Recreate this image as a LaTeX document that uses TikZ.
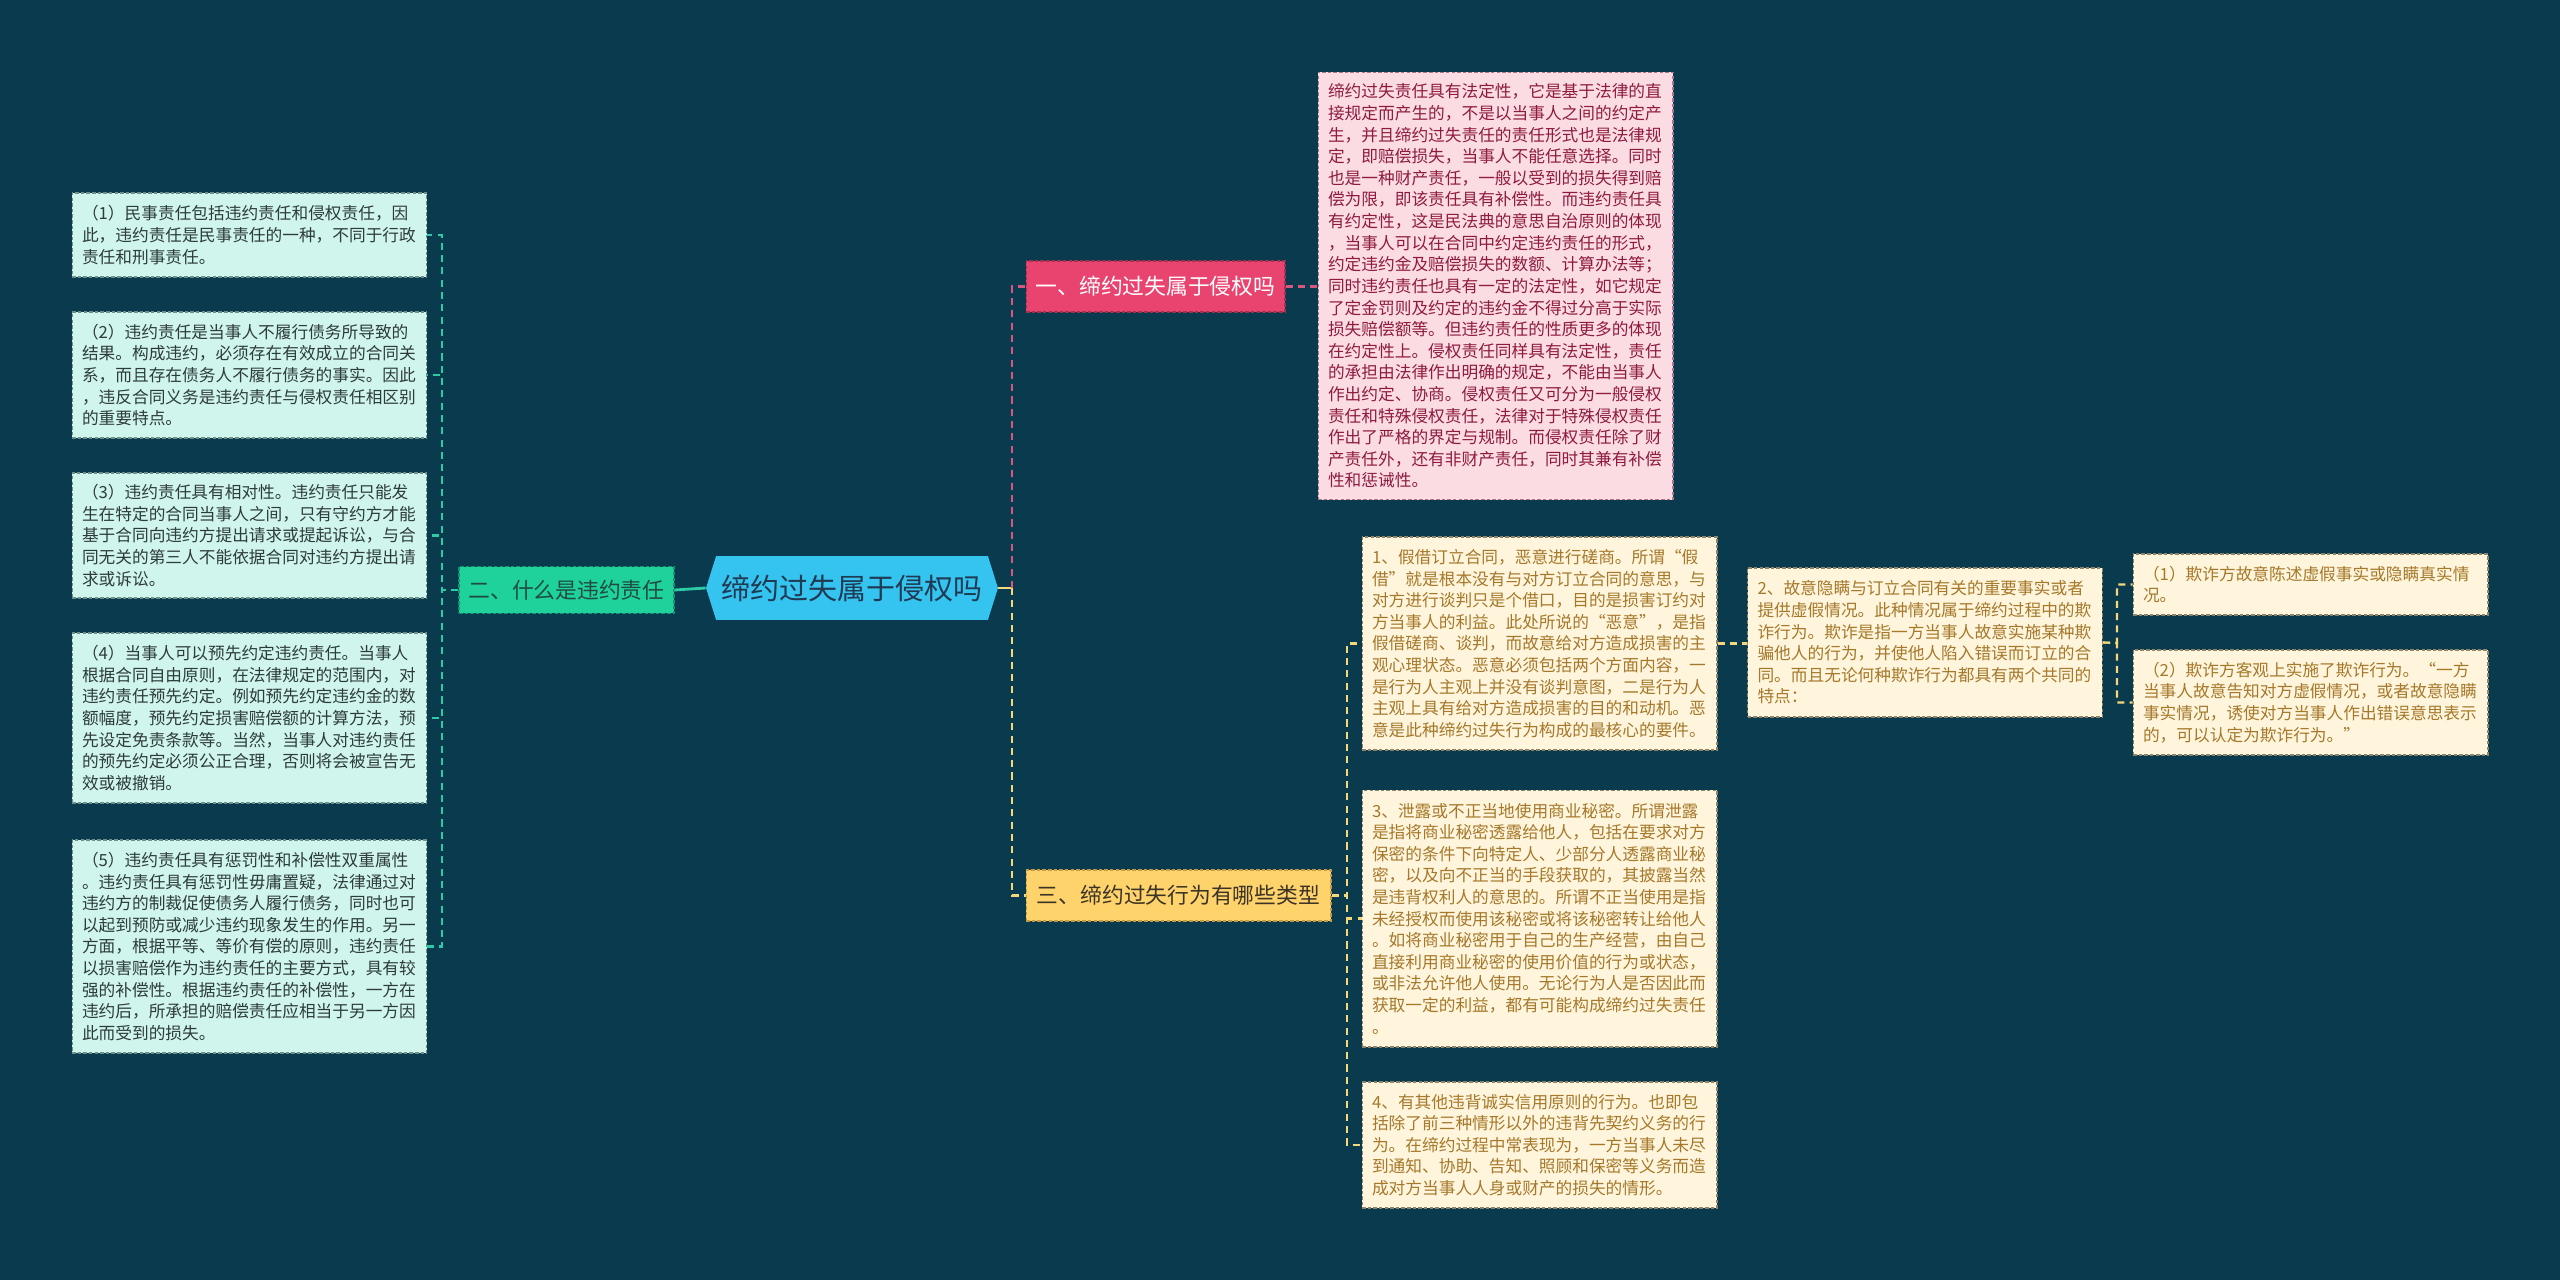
\documentclass[tikz,border=0pt]{standalone}
\usepackage{fontspec}
\setmainfont{Noto Sans CJK SC}
\usepackage{xcolor}
\usetikzlibrary{shapes.symbols}

\definecolor{bgc}{HTML}{0A3A4D}
\definecolor{mintbg}{HTML}{CFF5EC}
\definecolor{mintln}{HTML}{6E8F8A}
\definecolor{minttx}{HTML}{2E3B3B}
\definecolor{pinkbg}{HTML}{FCDCE3}
\definecolor{pinkln}{HTML}{A8788A}
\definecolor{pinktx}{HTML}{8E1B3F}
\definecolor{creambg}{HTML}{FFF5DC}
\definecolor{creamln}{HTML}{8F8468}
\definecolor{creamtx}{HTML}{A5782A}
\definecolor{hexbg}{HTML}{35C4F0}
\definecolor{hextx}{HTML}{1F3A52}
\definecolor{grnbg}{HTML}{1FD19B}
\definecolor{grnln}{HTML}{15936F}
\definecolor{grntx}{HTML}{1F4B44}
\definecolor{redbg}{HTML}{E9446F}
\definecolor{redln}{HTML}{A8304F}
\definecolor{yelbg}{HTML}{FFD36C}
\definecolor{yelln}{HTML}{C49A45}
\definecolor{yeltx}{HTML}{3B3325}
\definecolor{tealk}{HTML}{2CCBA6}
\definecolor{pinkk}{HTML}{D6577F}
\definecolor{yelk}{HTML}{F5D77C}

\begin{document}
\begin{tikzpicture}[x=0.02cm, y=-0.02cm,
  leaf/.style={draw, line width=0.6pt, dash pattern=on 2pt off 1.2pt, align=left,
               text width=6.7cm, inner xsep=0.2cm, inner ysep=0pt,
               font=\fontsize{9.5}{12.3}\selectfont},
  mleaf/.style={leaf, fill=mintbg, draw=mintln, text=minttx},
  pleaf/.style={leaf, fill=pinkbg, draw=pinkln, text=pinktx},
  yleaf/.style={leaf, fill=creambg, draw=creamln, text=creamtx},
  topic/.style={draw, line width=0.6pt, dash pattern=on 2pt off 1.2pt, inner sep=0pt,
                font=\fontsize{12.4}{14}\selectfont, minimum height=1.02cm},
  link/.style={line width=1.2pt, dash pattern=on 4pt off 3pt}
]
\fill[bgc] (0,0) rectangle (2560,1280);

\node[signal, signal to=west and east, signal pointer angle=145, fill=hexbg, text=hextx,
      minimum width=5.84cm, minimum height=1.28cm, inner sep=0pt,
      font=\fontsize{16.5}{18}\selectfont] (hex) at (852,588) {缔约过失属于侵权吗};

\node[topic, fill=grnbg, draw=grnln, text=grntx, minimum width=4.3cm, minimum height=0.94cm] (grn) at (566.5,590) {二、什么是违约责任};
\node[topic, fill=redbg, draw=redln, text=white, minimum width=5.18cm] (red) at (1155.5,286.5) {一、缔约过失属于侵权吗};
\node[topic, fill=yelbg, draw=yelln, text=yeltx, minimum width=6.1cm] (yel) at (1178.5,895.5) {三、缔约过失行为有哪些类型};

\node[mleaf, minimum height=1.68cm] (l1) at (249.5,235) {（1）民事责任包括违约责任和侵权责任，因\\此，违约责任是民事责任的一种，不同于行政\\责任和刑事责任。};
\node[mleaf, minimum height=2.52cm] (l2) at (249.5,375) {（2）违约责任是当事人不履行债务所导致的\\结果。构成违约，必须存在有效成立的合同关\\系，而且存在债务人不履行债务的事实。因此\\，违反合同义务是违约责任与侵权责任相区别\\的重要特点。};
\node[mleaf, minimum height=2.5cm] (l3) at (249.5,535.5) {（3）违约责任具有相对性。违约责任只能发\\生在特定的合同当事人之间，只有守约方才能\\基于合同向违约方提出请求或提起诉讼，与合\\同无关的第三人不能依据合同对违约方提出请\\求或诉讼。};
\node[mleaf, minimum height=3.4cm] (l4) at (249.5,718) {（4）当事人可以预先约定违约责任。当事人\\根据合同自由原则，在法律规定的范围内，对\\违约责任预先约定。例如预先约定违约金的数\\额幅度，预先约定损害赔偿额的计算方法，预\\先设定免责条款等。当然，当事人对违约责任\\的预先约定必须公正合理，否则将会被宣告无\\效或被撤销。};
\node[mleaf, minimum height=4.26cm] (l5) at (249.5,946.5) {（5）违约责任具有惩罚性和补偿性双重属性\\。违约责任具有惩罚性毋庸置疑，法律通过对\\违约方的制裁促使债务人履行债务，同时也可\\以起到预防或减少违约现象发生的作用。另一\\方面，根据平等、等价有偿的原则，违约责任\\以损害赔偿作为违约责任的主要方式，具有较\\强的补偿性。根据违约责任的补偿性，一方在\\违约后，所承担的赔偿责任应相当于另一方因\\此而受到的损失。};

\node[pleaf, minimum height=8.56cm] (pnk) at (1495.5,286) {缔约过失责任具有法定性，它是基于法律的直\\接规定而产生的，不是以当事人之间的约定产\\生，并且缔约过失责任的责任形式也是法律规\\定，即赔偿损失，当事人不能任意选择。同时\\也是一种财产责任，一般以受到的损失得到赔\\偿为限，即该责任具有补偿性。而违约责任具\\有约定性，这是民法典的意思自治原则的体现\\，当事人可以在合同中约定违约责任的形式，\\约定违约金及赔偿损失的数额、计算办法等；\\同时违约责任也具有一定的法定性，如它规定\\了定金罚则及约定的违约金不得过分高于实际\\损失赔偿额等。但违约责任的性质更多的体现\\在约定性上。侵权责任同样具有法定性，责任\\的承担由法律作出明确的规定，不能由当事人\\作出约定、协商。侵权责任又可分为一般侵权\\责任和特殊侵权责任，法律对于特殊侵权责任\\作出了严格的界定与规制。而侵权责任除了财\\产责任外，还有非财产责任，同时其兼有补偿\\性和惩诫性。};

\node[yleaf, minimum height=4.26cm] (y1) at (1539.5,643.5) {1、假借订立合同，恶意进行磋商。所谓“假\\借”就是根本没有与对方订立合同的意思，与\\对方进行谈判只是个借口，目的是损害订约对\\方当事人的利益。此处所说的“恶意”，是指\\假借磋商、谈判，而故意给对方造成损害的主\\观心理状态。恶意必须包括两个方面内容，一\\是行为人主观上并没有谈判意图，二是行为人\\主观上具有给对方造成损害的目的和动机。恶\\意是此种缔约过失行为构成的最核心的要件。};
\node[yleaf, minimum height=5.14cm] (y3) at (1539.5,918.5) {3、泄露或不正当地使用商业秘密。所谓泄露\\是指将商业秘密透露给他人，包括在要求对方\\保密的条件下向特定人、少部分人透露商业秘\\密，以及向不正当的手段获取的，其披露当然\\是违背权利人的意思的。所谓不正当使用是指\\未经授权而使用该秘密或将该秘密转让给他人\\。如将商业秘密用于自己的生产经营，由自己\\直接利用商业秘密的使用价值的行为或状态，\\或非法允许他人使用。无论行为人是否因此而\\获取一定的利益，都有可能构成缔约过失责任\\。};
\node[yleaf, minimum height=2.52cm] (y4) at (1539.5,1145) {4、有其他违背诚实信用原则的行为。也即包\\括除了前三种情形以外的违背先契约义务的行\\为。在缔约过程中常表现为，一方当事人未尽\\到通知、协助、告知、照顾和保密等义务而造\\成对方当事人人身或财产的损失的情形。};
\node[yleaf, minimum height=2.98cm] (y2) at (1925,642.5) {2、故意隐瞒与订立合同有关的重要事实或者\\提供虚假情况。此种情况属于缔约过程中的欺\\诈行为。欺诈是指一方当事人故意实施某种欺\\骗他人的行为，并使他人陷入错误而订立的合\\同。而且无论何种欺诈行为都具有两个共同的\\特点：};
\node[yleaf, minimum height=1.22cm] (c1) at (2310.5,584.5) {（1）欺诈方故意陈述虚假事实或隐瞒真实情\\况。};
\node[yleaf, minimum height=2.1cm] (c2) at (2310.5,702.5) {（2）欺诈方客观上实施了欺诈行为。“一方\\当事人故意告知对方虚假情况，或者故意隐瞒\\事实情况，诱使对方当事人作出错误意思表示\\的，可以认定为欺诈行为。”};

\coordinate (lj) at (442,590);
\coordinate (rj) at (1012,588);
\coordinate (yj) at (1347,895.5);
\coordinate (cj) at (2117,643);

\draw[tealk, line width=1.6pt] (hex.west) -- (grn.east);
\foreach \n in {l1,l2,l3,l4,l5}
  \draw[link, tealk] (grn.west) -- (lj) |- (\n.east);
\draw[yelk, line width=1.6pt] (hex.east) -- (rj);
\draw[link, pinkk] (rj) |- (red.west);
\draw[link, yelk] (rj) |- (yel.west);
\draw[link, pinkk] (red.east) -- (pnk.west |- red.east);
\foreach \n in {y1,y3,y4}
  \draw[link, yelk] (yel.east) -- (yj) |- (\n.west);
\draw[link, yelk] (y1.east) -- (y2.west |- y1.east);
\foreach \n in {c1,c2}
  \draw[link, yelk] (y2.east) -- (cj) |- (\n.west);
\end{tikzpicture}
\end{document}
